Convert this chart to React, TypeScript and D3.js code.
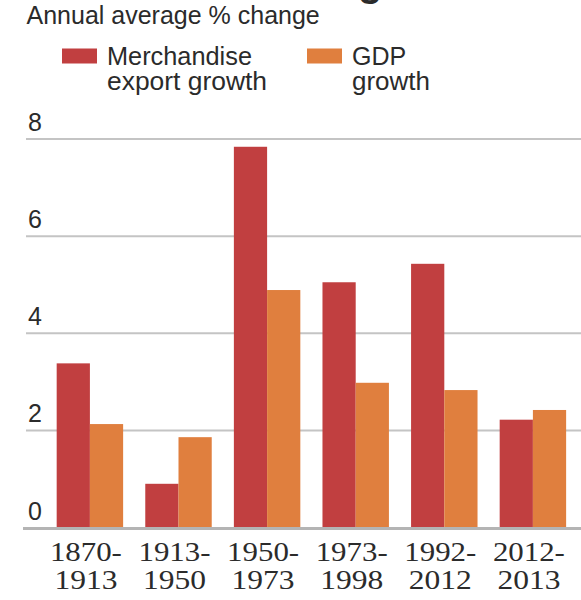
import React from "react";
import * as d3 from "d3";

const categories = ["1870-1913", "1913-1950", "1950-1973", "1973-1998", "1992-2012", "2012-2013"];
const exportGrowth = [3.38, 0.9, 7.84, 5.05, 5.43, 2.22];
const gdpGrowth = [2.13, 1.86, 4.89, 2.98, 2.83, 2.42];
const yTicks = [0, 2, 4, 6, 8];
const seriesNames = [["Merchandise", "export growth"], ["GDP", "growth"]];
const colors = ["#c13f40", "#e07f3e"];

export default function App() {
  const W = 581, H = 600;
  const x = d3.scaleBand<string>().domain(categories).range([45.6, 577.2]).paddingInner(0.25).paddingOuter(0.125);
  const inner = d3.scaleBand<string>().domain(["exp", "gdp"]).range([0, x.bandwidth()]);
  const y = d3.scaleLinear().domain([0, 8]).range([527.5, 139]);
  const sans = "'Liberation Sans', Arial, sans-serif";
  const serif = "'Liberation Serif', 'Times New Roman', serif";
  const textColor = "#2b2b2b";
  return (
    <svg width={W} height={H} style={{ position: "absolute", left: 0, top: 0, background: "#fff" }}>
      <rect x={0} y={0} width={W} height={H} fill="#fff" />
      <text x={358} y={-4} fontFamily={sans} fontWeight="bold" fontSize={40} fill={textColor}>g</text>
      <text x={26.5} y={23.5} fontFamily={sans} fontSize={25} fill={textColor}>Annual average % change</text>
      {/* legend */}
      {[0, 1].map((i) => {
        const sx = i === 0 ? 62 : 307;
        return (
          <g key={i}>
            <rect x={sx} y={48.5} width={35} height={15} fill={colors[i]} />
            <text x={sx + 45} y={64.5} fontFamily={sans} fontSize={25} textLength={i === 0 ? 145 : undefined} lengthAdjust="spacingAndGlyphs" fill={textColor}>{seriesNames[i][0]}</text>
            <text x={sx + 45} y={90} fontFamily={sans} fontSize={25} textLength={i === 0 ? 160 : 78} lengthAdjust="spacingAndGlyphs" fill={textColor}>{seriesNames[i][1]}</text>
          </g>
        );
      })}
      {/* grid */}
      {yTicks.filter((t) => t !== 0).map((t) => (
        <line key={t} x1={26} x2={W} y1={y(t)} y2={y(t)} stroke="#c4c4c4" strokeWidth={2} />
      ))}
      {yTicks.map((t) => (
        <text key={"l" + t} x={28} y={y(t) - 8} fontFamily={sans} fontSize={25} fill={textColor}>{t}</text>
      ))}
      {/* bars */}
      {categories.map((c, i) => (
        <g key={c}>
          <rect x={(x(c) as number) + (inner("exp") as number)} y={y(exportGrowth[i])} width={inner.bandwidth()} height={y(0) - y(exportGrowth[i])} fill={colors[0]} />
          <rect x={(x(c) as number) + (inner("gdp") as number)} y={y(gdpGrowth[i])} width={inner.bandwidth()} height={y(0) - y(gdpGrowth[i])} fill={colors[1]} />
        </g>
      ))}
      <line x1={23} x2={W} y1={y(0) + 1} y2={y(0) + 1} stroke="#b4b4b4" strokeWidth={3} />
      {/* x labels */}
      {categories.map((c) => {
        const [a, b] = c.split("-");
        const cx = (x(c) as number) + x.bandwidth() / 2 - 4;
        return (
          <g key={"x" + c}>
            <text x={cx} y={561} textAnchor="middle" fontFamily={serif} fontSize={28} textLength={72} lengthAdjust="spacingAndGlyphs" fill={textColor}>{a + "-"}</text>
            <text x={cx} y={589} textAnchor="middle" fontFamily={serif} fontSize={28} textLength={63} lengthAdjust="spacingAndGlyphs" fill={textColor}>{b}</text>
          </g>
        );
      })}
    </svg>
  );
}
